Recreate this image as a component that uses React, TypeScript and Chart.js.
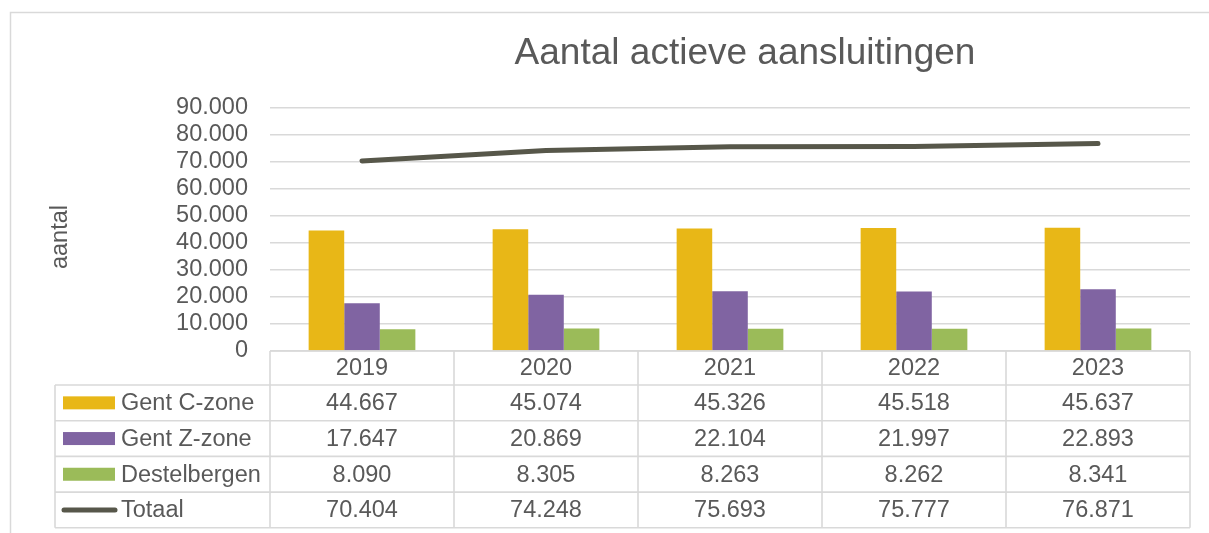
import { useEffect, useRef } from 'react';
import { Chart, registerables } from 'chart.js';

Chart.register(...registerables);

const years = ['2019', '2020', '2021', '2022', '2023'];
const gentC = [44667, 45074, 45326, 45518, 45637];
const gentZ = [17647, 20869, 22104, 21997, 22893];
const destelbergen = [8090, 8305, 8263, 8262, 8341];
const totaal = [70404, 74248, 75693, 75777, 76871];
const seriesNames = ['Gent C-zone', 'Gent Z-zone', 'Destelbergen', 'Totaal'];
const titleText = 'Aantal actieve aansluitingen';
const yAxisTitle = 'aantal';
const yMin = 0;
const yMax = 90000;
const yStep = 10000;

const COL_C = '#E8B717';
const COL_Z = '#8064A2';
const COL_D = '#9BBB59';
const COL_T = '#57574A';
const TEXT = '#595959';
const GRID = '#D9D9D9';
const FONT = '"Liberation Sans", Arial, sans-serif';
const FS = 23.5;

function fmt(n: number): string {
  return String(Math.round(n)).replace(/\B(?=(\d{3})+(?!\d))/g, '.');
}

const tablePlugin = {
  id: 'excelTable',
  beforeDraw(chart: any) {
    const ctx = chart.ctx;
    ctx.save();
    ctx.fillStyle = '#ffffff';
    ctx.fillRect(0, 0, chart.width, chart.height);
    ctx.strokeStyle = GRID;
    ctx.lineWidth = 1.5;
    ctx.strokeRect(10.5, 12.5, chart.width + 50, chart.height + 50);
    ctx.restore();
  },
  afterDraw(chart: any) {
    const { ctx, chartArea: ca, scales } = chart;
    const xs = scales.x;
    const n = years.length;
    const colW = (ca.right - ca.left) / n;
    const edges = Array.from({ length: n + 1 }, (_, i) => ca.left + i * colW);
    const headerBottom = ca.bottom + 34;
    const rowH = 35.7;
    const labelLeft = 55;
    const tableBottom = headerBottom + 4 * rowH;

    const line = (x1: number, y1: number, x2: number, y2: number) => {
      ctx.beginPath();
      ctx.moveTo(x1, y1);
      ctx.lineTo(x2, y2);
      ctx.stroke();
    };

    ctx.save();
    ctx.strokeStyle = GRID;
    ctx.lineWidth = 1.6;
    line(ca.left, ca.bottom, ca.right, ca.bottom);
    for (let r = 0; r <= 4; r++) {
      const y = headerBottom + r * rowH;
      line(labelLeft, y, ca.right, y);
    }
    edges.forEach((e) => line(e, ca.bottom, e, tableBottom));
    line(labelLeft, headerBottom, labelLeft, tableBottom);

    ctx.fillStyle = TEXT;
    ctx.font = `${FS}px ${FONT}`;
    ctx.textAlign = 'center';
    ctx.textBaseline = 'middle';
    years.forEach((y, i) => {
      ctx.fillText(y, xs.getPixelForValue(i), (ca.bottom + headerBottom) / 2 + 1);
    });

    const rows = [gentC, gentZ, destelbergen, totaal];
    const datasets = chart.data.datasets;
    rows.forEach((arr, r) => {
      const cy = headerBottom + (r + 0.5) * rowH + 1;
      ctx.fillStyle = TEXT;
      ctx.textAlign = 'center';
      arr.forEach((v, i) => ctx.fillText(fmt(v), xs.getPixelForValue(i), cy));
      const ds = datasets[r];
      if (ds.type === 'line') {
        ctx.strokeStyle = ds.borderColor;
        ctx.lineWidth = 5;
        ctx.lineCap = 'round';
        line(64, cy - 1, 115, cy - 1);
      } else {
        ctx.fillStyle = ds.backgroundColor;
        ctx.fillRect(63, cy - 7.5, 52, 13);
      }
      ctx.fillStyle = TEXT;
      ctx.textAlign = 'left';
      ctx.fillText(seriesNames[r], 121, cy);
    });

    // title
    ctx.fillStyle = TEXT;
    ctx.textAlign = 'center';
    ctx.font = `37px ${FONT}`;
    ctx.fillText(titleText, 745, 54);

    // y axis title
    ctx.save();
    ctx.translate(61, 237);
    ctx.rotate(-Math.PI / 2);
    ctx.font = `${FS}px ${FONT}`;
    ctx.fillText(yAxisTitle, 0, 0);
    ctx.restore();

    ctx.restore();
  },
};

export default function App() {
  const ref = useRef<HTMLCanvasElement | null>(null);

  useEffect(() => {
    if (!ref.current) return;
    const chart = new Chart(ref.current, {
      type: 'bar',
      data: {
        labels: years,
        datasets: [
          { type: 'bar', label: seriesNames[0], data: gentC, backgroundColor: COL_C, categoryPercentage: 0.58, barPercentage: 1.0 },
          { type: 'bar', label: seriesNames[1], data: gentZ, backgroundColor: COL_Z, categoryPercentage: 0.58, barPercentage: 1.0 },
          { type: 'bar', label: seriesNames[2], data: destelbergen, backgroundColor: COL_D, categoryPercentage: 0.58, barPercentage: 1.0 },
          {
            type: 'line',
            label: seriesNames[3],
            data: totaal,
            borderColor: COL_T,
            backgroundColor: COL_T,
            borderWidth: 5,
            borderCapStyle: 'round',
            borderJoinStyle: 'round',
            pointRadius: 0,
            tension: 0,
            order: -1,
          } as any,
        ],
      },
      options: {
        responsive: false,
        animation: false,
        devicePixelRatio: 1,
        layout: { padding: { left: 0, top: 108, right: 19, bottom: 182 } },
        plugins: {
          legend: { display: false },
          tooltip: { enabled: false },
          title: { display: false },
        },
        scales: {
          x: { display: false },
          y: {
            min: yMin,
            max: yMax,
            afterFit: (s: any) => {
              s.width = 270;
            },
            ticks: {
              stepSize: yStep,
              autoSkip: false,
              padding: 22,
              color: TEXT,
              font: { family: FONT, size: FS },
              callback: (v: any) => fmt(Number(v)),
            },
            grid: { color: GRID, lineWidth: 1.5, drawTicks: false },
            border: { display: false },
          },
        },
      },
      plugins: [tablePlugin],
    });
    return () => chart.destroy();
  }, []);

  return (
    <canvas
      ref={ref}
      width={1209}
      height={533}
      style={{ position: 'absolute', left: 0, top: 0, width: 1209, height: 533, display: 'block' }}
    />
  );
}
